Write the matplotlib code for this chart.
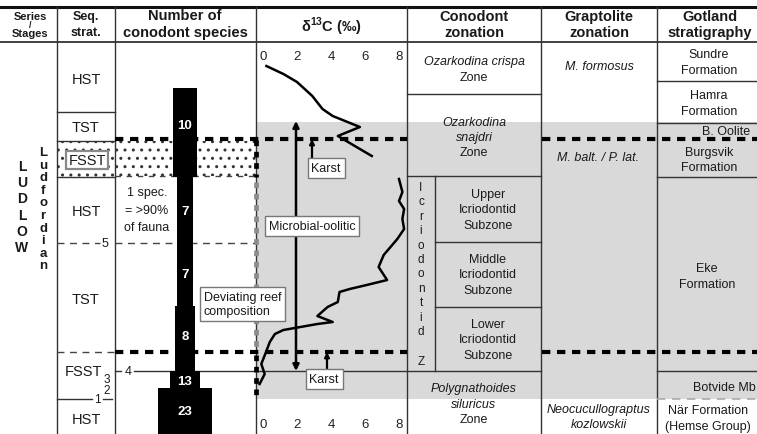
import matplotlib
matplotlib.use('Agg')
import matplotlib.pyplot as plt
from matplotlib.patches import Rectangle

plt.rcParams['font.family'] = ['Liberation Sans', 'DejaVu Sans']
plt.rcParams['mathtext.fontset'] = 'custom'
plt.rcParams['mathtext.rm'] = 'Liberation Sans'
plt.rcParams['mathtext.bf'] = 'Liberation Sans:bold'
plt.rcParams['hatch.linewidth'] = 1.0

# ---------------- data ----------------
species_counts = [10, 7, 7, 8, 13, 23]
segment_top = [89, 178, 244, 307, 372, 389]
segment_bottom = [178, 244, 307, 372, 389, 435]
species_label_level = [126, 212, 275, 337, 382, 412]

d13c_ticks = [0, 2, 4, 6, 8]
upper_level = [67, 75, 83, 97, 110, 117, 128, 137, 157]
upper_d13c = [0.2, 1.2, 2.0, 2.9, 3.5, 4.1, 5.7, 4.4, 6.4]
lower_level = [180, 193, 202, 210, 220, 230, 240, 248, 256, 268, 281, 286, 290,
               293, 303, 308, 317, 323, 325, 328, 331, 335, 343, 352, 365, 375, 385]
lower_d13c = [8.0, 8.2, 8.0, 8.3, 8.2, 8.3, 7.9, 7.5, 7.1, 6.8, 7.3, 6.1, 5.1,
              4.5, 4.4, 3.8, 3.2, 4.1, 3.2, 2.2, 1.2, 0.7, 0.4, 0.2, -0.1, 0.1, -0.2]

headers = [('Series', '/', 'Stages'), ('Seq.', 'strat.'), ('Number of', 'conodont species'),
           ('Conodont', 'zonation'), ('Graptolite', 'zonation'), ('Gotland', 'stratigraphy')]
seq_labels = ['HST', 'TST', 'FSST', 'HST', 'TST', 'FSST', 'HST']
seq_levels = [80, 128, 161, 212, 300, 372, 420]

W, H = 757, 435
fig = plt.figure(figsize=(W / 100, H / 100), dpi=100)

LC = '#333333'
GRAY = '#d9d9d9'

# ---------- base axes (background, grid) ----------
ax = fig.add_axes([0, 0, 1, 1])
ax.set_xlim(0, W); ax.set_ylim(H, 0); ax.axis('off')

ax.add_patch(Rectangle((257, 123), 500, 277, fc=GRAY, ec='none', zorder=0))
# stipple (FSST)
ax.add_patch(Rectangle((57, 142), 58, 36, fill=False, hatch='..', ec='#333333', lw=0, zorder=1))
ax.add_patch(Rectangle((115, 142), 141, 35, fill=False, hatch='..', ec='#333333', lw=0, zorder=1))

# frame lines
ax.plot([0, W], [8, 8], color='#111111', lw=2.2)
ax.plot([0, W], [43, 43], color=LC, lw=1.3)
for x in [57, 115, 256, 407, 541, 657]:
    ax.plot([x, x], [8, H], color=LC, lw=1.0)

# seq strat lines
for y in [113, 142, 178]:
    ax.plot([57, 115], [y, y], color=LC, lw=1.0)
ax.plot([57, 100], [244, 244], color='#444444', lw=1.0, dashes=(5, 4))
ax.plot([115, 256], [244, 244], color='#444444', lw=1.0, dashes=(5, 4))
ax.plot([115, 256], [177, 177], color='#444444', lw=1.0, dashes=(4, 4))
ax.plot([57, 115], [353, 353], color='#444444', lw=1.0, dashes=(5, 4))
ax.plot([57, 92], [400, 400], color=LC, lw=1.0)
ax.plot([103, 112], [400, 400], color=LC, lw=1.0)
ax.plot([115, 121], [372, 372], color=LC, lw=1.0)
ax.plot([134, 541], [372, 372], color=LC, lw=1.0)
ax.plot([657, W], [372, 372], color=LC, lw=1.0)

# conodont column lines
ax.plot([407, 541], [95, 95], color=LC, lw=1.0)
ax.plot([407, 541], [177, 177], color=LC, lw=1.0)
ax.plot([435, 435], [177, 372], color=LC, lw=1.0)
ax.plot([435, 541], [243, 243], color=LC, lw=1.0)
ax.plot([435, 541], [308, 308], color=LC, lw=1.0)
# gotland lines
for y in [82, 124, 178]:
    ax.plot([657, W], [y, y], color=LC, lw=1.0)
ax.plot([657, W], [400, 400], color='#aaaaaa', lw=1.2, dashes=(5, 4))

# ---------- species bars ----------
cx, scale = 185, 2.38
axb = fig.add_axes([115 / W, 0, (256 - 115) / W, 1])
axb.set_xlim(-(cx - 115) / scale, (256 - cx) / scale)
axb.set_ylim(H, 0); axb.axis('off')
heights = [b - t for t, b in zip(segment_top, segment_bottom)]
axb.bar(0, heights, bottom=segment_top, width=species_counts, color='black', lw=0)
for n, lv in zip(species_counts, species_label_level):
    axb.text(0, lv, str(n), color='white', ha='center', va='center', fontsize=9.5, weight='bold')

# ---------- d13C curve ----------
x0_px, px_per_unit = 263, 17.0
axc = fig.add_axes([256 / W, 0, (407 - 256) / W, 1])
axc.set_xlim((256 - x0_px) / px_per_unit, (407 - x0_px) / px_per_unit)
axc.set_ylim(H, 0); axc.axis('off')
axc.plot(upper_d13c, upper_level, color='black', lw=1.8, solid_joinstyle='round')
axc.plot(lower_d13c, lower_level, color='black', lw=1.8, solid_joinstyle='round')
for v in d13c_ticks:
    axc.text(v, 57, str(v), ha='center', va='center', fontsize=9.5, color='#222222')
    axc.text(v, 425, str(v), ha='center', va='center', fontsize=9.5, color='#222222')

# ---------- overlay ----------
top = fig.add_axes([0, 0, 1, 1])
top.set_xlim(0, W); top.set_ylim(H, 0); top.axis('off')

# thick dashed boundaries (interrupted in the conodont column)
for y in [140, 353]:
    top.plot([115, 407], [y, y], color='black', lw=3.0, dashes=(2.0, 1.6))
    top.plot([542, W], [y, y], color='black', lw=3.0, dashes=(2.0, 1.6))
# square-dotted column boundary
top.plot([256, 256], [141, 178], color='black', lw=3.4, dashes=(1.2, 1.2))
top.plot([256, 256], [183, 348], color='#8c8c8c', lw=3.4, dashes=(1.2, 1.2))
top.plot([256, 256], [356, 396], color='black', lw=3.4, dashes=(1.2, 1.2))


def T(x, y, s, **kw):
    kw.setdefault('ha', 'center'); kw.setdefault('va', 'center')
    kw.setdefault('fontsize', 9)
    kw.setdefault('color', '#1a1a1a')
    return top.text(x, y, s, **kw)


# headers
T(30, 17, headers[0][0], fontsize=8, weight='bold')
T(30, 25, headers[0][1], fontsize=6.5, weight='bold')
T(30, 34, headers[0][2], fontsize=8, weight='bold')
T(86, 17, headers[1][0], fontsize=9, weight='bold')
T(86, 33, headers[1][1], fontsize=9, weight='bold')
T(185, 16, headers[2][0], fontsize=10.5, weight='bold')
T(185, 33, headers[2][1], fontsize=10.5, weight='bold')
T(332, 27, 'δ$^{\\mathbf{13}}$C (‰)', fontsize=10.5, weight='bold')
T(474, 17, headers[3][0], fontsize=10.5, weight='bold')
T(474, 33, headers[3][1], fontsize=10.5, weight='bold')
T(599, 17, headers[4][0], fontsize=10.5, weight='bold')
T(599, 33, headers[4][1], fontsize=10.5, weight='bold')
T(710, 17, headers[5][0], fontsize=10.5, weight='bold')
T(710, 33, headers[5][1], fontsize=10.5, weight='bold')

# series / stages
for i, ch in enumerate('LUDLOW'):
    T(22, 167 + i * 16.2, ch, fontsize=10, weight='bold')
for i, ch in enumerate('Ludfordian'):
    T(43, 153 + i * 12.6, ch, fontsize=9.5, weight='bold')

# seq strat
for lab, lv in zip(seq_labels, seq_levels):
    if lv == 161:
        T(87, lv, lab, fontsize=10.5,
          bbox=dict(boxstyle='square,pad=0.15', fc='white', ec='#8a8a8a', lw=1.6))
    elif lv == 372:
        T(84, lv, lab, fontsize=10.5)
    else:
        T(86, lv, lab, fontsize=10.5)
T(105, 244, '5', fontsize=9)
T(128, 372, '4', fontsize=9)
T(107, 380, '3', fontsize=8.5)
T(107, 391, '2', fontsize=8.5)
T(97, 400, '1', fontsize=8.5)

# number column note
T(147, 193, '1 spec.', fontsize=9)
T(147, 211, '= >90%', fontsize=9)
T(147, 228, 'of fauna', fontsize=9)

# d13C annotations
top.annotate('', xy=(296, 122), xytext=(296, 372),
             arrowprops=dict(arrowstyle='<|-|>', color='black', lw=1.8,
                             mutation_scale=9, shrinkA=0, shrinkB=0))
top.annotate('', xy=(312, 140), xytext=(312, 161),
             arrowprops=dict(arrowstyle='-|>', color='black', lw=1.6,
                             mutation_scale=7, shrinkA=0, shrinkB=0))
top.annotate('', xy=(327, 353), xytext=(327, 372),
             arrowprops=dict(arrowstyle='-|>', color='black', lw=1.6,
                             mutation_scale=7, shrinkA=0, shrinkB=0))
box = dict(boxstyle='square,pad=0.3', fc='white', ec='#777777', lw=1.0)
T(326, 169, 'Karst', fontsize=9, bbox=box)
T(324, 380, 'Karst', fontsize=9, bbox=box)
T(312, 227, 'Microbial-oolitic', fontsize=9, bbox=box)
T(204, 305, 'Deviating reef\ncomposition', fontsize=9, ha='left', linespacing=1.2,
  bbox=dict(boxstyle='square,pad=0.3', fc='white', ec='#777777', lw=1.0))

# conodont zonation
T(474, 62, 'Ozarkodina crispa', fontsize=9, style='italic')
T(474, 78, 'Zone', fontsize=9)
T(474, 123, 'Ozarkodina', fontsize=9, style='italic')
T(474, 138, 'snajdri', fontsize=9, style='italic')
T(474, 153, 'Zone', fontsize=9)
for i, ch in enumerate('Icriodontid'):
    T(421, 188 + i * 14.4, ch, fontsize=8.5)
T(421, 362, 'Z', fontsize=8.5)
for yc, word in [(210, 'Upper'), (275, 'Middle'), (340, 'Lower')]:
    T(488, yc - 15, word, fontsize=9)
    T(488, yc, 'Icriodontid', fontsize=9)
    T(488, yc + 16, 'Subzone', fontsize=9)
T(474, 389, 'Polygnathoides', fontsize=9, style='italic')
T(474, 405, 'siluricus', fontsize=9, style='italic')
T(474, 420, 'Zone', fontsize=9)

# graptolite zonation
T(599, 67, 'M. formosus', fontsize=9, style='italic')
T(598, 158, 'M. balt. / P. lat.', fontsize=9, style='italic')
T(599, 410, 'Neocucullograptus', fontsize=9, style='italic')
T(599, 425, 'kozlowskii', fontsize=9, style='italic')

# gotland stratigraphy
T(709, 55, 'Sundre', fontsize=9)
T(709, 71, 'Formation', fontsize=9)
T(709, 96, 'Hamra', fontsize=9)
T(709, 112, 'Formation', fontsize=9)
T(726, 132, 'B. Oolite', fontsize=9)
T(709, 153, 'Burgsvik', fontsize=9)
T(709, 168, 'Formation', fontsize=9)
T(707, 269, 'Eke', fontsize=9)
T(707, 285, 'Formation', fontsize=9)
T(724, 388, 'Botvide Mb', fontsize=9)
T(708, 411, 'När Formation', fontsize=9)
T(708, 427, '(Hemse Group)', fontsize=9)

fig.savefig('out.png', dpi=100)
